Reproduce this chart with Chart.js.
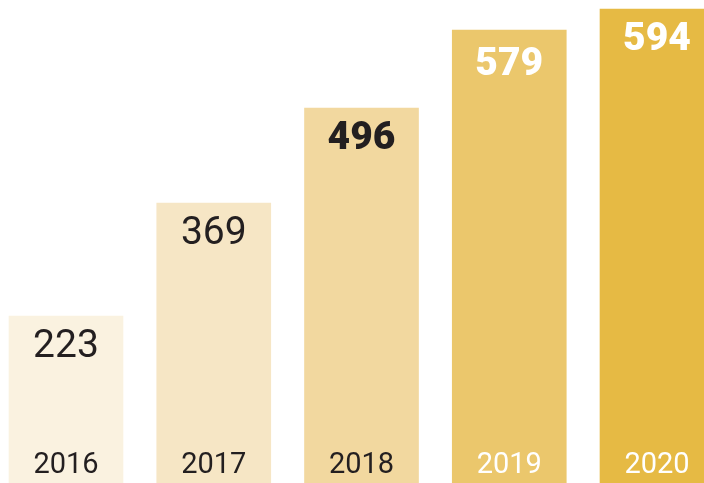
<!DOCTYPE html>
<html>
<head>
<meta charset="utf-8">
<script src="https://cdn.jsdelivr.net/npm/chart.js@4/dist/chart.umd.min.js"></script>
<style>
  html, body { margin: 0; padding: 0; background: #fff; }
  #wrap { width: 704px; height: 483px; }
</style>
</head>
<body>
<div id="wrap"><canvas id="c"></canvas></div>
<script>
const years = ['2016', '2017', '2018', '2019', '2020'];
const values = [223, 369, 496, 579, 594];
// bar lengths as drawn in the picture (not proportional to the values)
const barHeights = [167, 280, 375, 453, 474];
const barColors = ['#FAF2E0', '#F6E6C5', '#F2D89F', '#EBC76C', '#E6BA44'];
const valueWeights = ['400', '400', '900', '900', '900'];
const valueColors = ['#231F20', '#231F20', '#231F20', '#FFFFFF', '#FFFFFF'];
const yearColors = ['#231F20', '#231F20', '#231F20', '#FFFFFF', '#FFFFFF'];
const valueDrop = [41, 41, 41, 45, 41];

const labelPlugin = {
    id: 'barLabels',
    afterDatasetsDraw: chart => {
        const ctx = chart.ctx;
        const meta = chart.getDatasetMeta(0);
        const bottom = chart.chartArea.bottom;
        ctx.save();
        ctx.textAlign = 'center';
        ctx.textBaseline = 'alphabetic';
        meta.data.forEach((bar, i) => {
            ctx.fillStyle = valueColors[i];
            ctx.font = `${valueWeights[i]} 39px Roboto`;
            ctx.fillText(String(values[i]), bar.x, bar.y + valueDrop[i]);
            ctx.fillStyle = yearColors[i];
            ctx.font = '400 29px Roboto';
            ctx.fillText(years[i], bar.x, bottom - 10);
        });
        ctx.restore();
    }
};

new Chart(document.getElementById('c').getContext('2d'), {
    type: 'bar',
    data: {
        datasets: [{
            data: years.map((y, i) => ({ x: i, y: barHeights[i] })),
            backgroundColor: barColors,
            borderWidth: 0,
            barThickness: 114,
        }]
    },
    options: {
        responsive: true,
        maintainAspectRatio: false,
        animation: false,
        layout: { padding: 0 },
        plugins: {
            legend: { display: false },
            tooltip: { enabled: false },
            title: { display: false },
        },
        scales: {
            x: { type: 'linear', display: false, min: -0.4467, max: 4.318, offset: false },
            y: { display: false, min: 0, max: 483 }
        }
    },
    plugins: [labelPlugin]
});
</script>
</body>
</html>
